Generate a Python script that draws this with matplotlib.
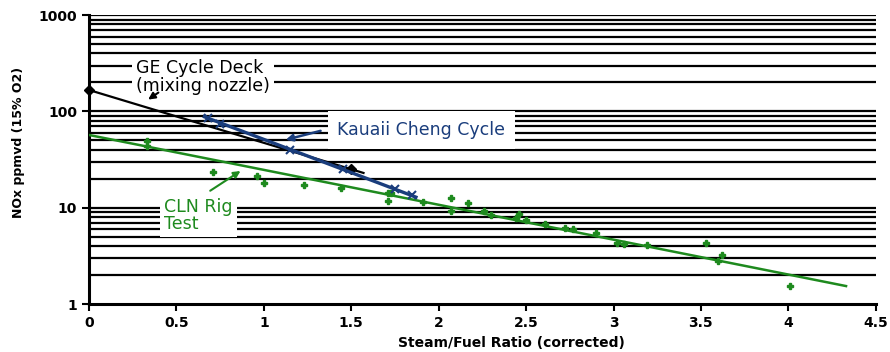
import matplotlib.pyplot as plt

plt.rcParams['font.family'] = ['DejaVu Sans']

# CLN Rig Test (green points)
cln_x = [0.33, 0.33, 0.71, 0.96, 1.0, 1.23, 1.44, 1.71, 1.71, 1.73, 1.91, 2.07, 2.07,
         2.17, 2.26, 2.30, 2.44, 2.46, 2.50, 2.61, 2.72, 2.77, 2.90, 3.02, 3.06,
         3.19, 3.53, 3.60, 3.62, 4.01]
cln_y = [49, 44, 23.5, 21.3, 18, 17.2, 16, 14.2, 11.7, 14.2, 11.5, 12.6, 9.2,
         11.2, 9.2, 8.4, 7.8, 8.6, 7.45, 6.8, 6.15, 6.0, 5.45, 4.3, 4.2,
         4.1, 4.3, 2.8, 3.2, 1.54]
cln_fit_x = [0, 4.33]
cln_fit_y = [57, 1.54]

# GE Cycle Deck (black)
ge_x = [0, 1.5]
ge_y = [167, 25.2]
ge_fit_x = [0, 1.57]
ge_fit_y = [167, 23.0]

# Kauaii Cheng Cycle (blue)
kc_x = [0.68, 0.75, 1.15, 1.45, 1.75, 1.85]
kc_y = [85, 75, 40, 25, 15.5, 13.5]
kc_fit_x = [0.66, 1.87]
kc_fit_y = [88, 12.9]

fig = plt.figure(figsize=(8.9, 3.52), dpi=100)
ax = fig.add_axes([0.1, 0.136, 0.884, 0.821])

ax.set_yscale('log')
ax.set_xlim(0, 4.5)
ax.set_ylim(1, 1000)

# horizontal grid lines at every log step
for dec in [1, 10, 100]:
    for m in range(1, 10):
        v = dec * m
        if v > 1:
            ax.axhline(v, color='black', lw=1.6, zorder=1)
ax.axhline(1000, color='black', lw=1.6, zorder=1)

green = '#1e8a1e'
blue = '#1a3d7c'

ax.plot(cln_fit_x, cln_fit_y, color=green, lw=1.8, zorder=3)
ax.plot(cln_x, cln_y, 'P', color=green, ms=5, zorder=3)

ax.plot(ge_fit_x, ge_fit_y, color='black', lw=1.6, zorder=4)
ax.plot(ge_x, ge_y, 'D', color='black', ms=5, zorder=4, clip_on=False)

ax.plot(kc_fit_x, kc_fit_y, color=blue, lw=2.4, zorder=5)
ax.plot(kc_x, kc_y, 'x', color=blue, ms=6, mew=1.5, zorder=5)

# annotations with white boxes
ax.text(0.27, 228, 'GE Cycle Deck\n(mixing nozzle)', fontsize=12.5, va='center', ha='left',
        linespacing=0.95, bbox=dict(facecolor='white', edgecolor='none', pad=3), zorder=6)
ax.annotate('', xy=(0.325, 128), xytext=(0.41, 163),
            arrowprops=dict(arrowstyle='-|>', color='black', lw=1.5), zorder=7)

ax.text(1.42, 64, 'Kauaii Cheng Cycle', fontsize=12.5, color=blue, va='center', ha='left',
        bbox=dict(facecolor='white', edgecolor='none', pad=7), zorder=6)
ax.annotate('', xy=(1.11, 50), xytext=(1.34, 64),
            arrowprops=dict(arrowstyle='-|>', color=blue, lw=1.8), zorder=7)

ax.text(0.43, 8.3, 'CLN Rig\nTest', fontsize=12.5, color=green, va='center', ha='left',
        linespacing=0.95, bbox=dict(facecolor='white', edgecolor='none', pad=3), zorder=6)
ax.annotate('', xy=(0.88, 25), xytext=(0.68, 14.5),
            arrowprops=dict(arrowstyle='-|>', color=green, lw=1.5), zorder=7)

ax.spines['top'].set_visible(False)
ax.spines['right'].set_visible(False)
ax.spines['left'].set_linewidth(2.2)
ax.spines['bottom'].set_linewidth(2.2)

ax.set_xticks([0, 0.5, 1, 1.5, 2, 2.5, 3, 3.5, 4, 4.5])
ax.set_xticklabels(['0', '0.5', '1', '1.5', '2', '2.5', '3', '3.5', '4', '4.5'])
ax.set_yticks([1, 10, 100, 1000])
ax.set_yticklabels(['1', '10', '100', '1000'])
ax.minorticks_off()
ax.tick_params(axis='both', labelsize=10, width=1.5, length=5, direction='out')
for lbl in ax.get_xticklabels() + ax.get_yticklabels():
    lbl.set_fontweight('bold')

ax.set_xlabel('Steam/Fuel Ratio (corrected)', fontsize=10, fontweight='bold', va='center')
ax.set_ylabel('NOx ppmvd (15% O2)', fontsize=9, fontweight='bold', va='center')
ax.xaxis.set_label_coords(0.537, -0.135)
ax.yaxis.set_label_coords(-0.09, 0.56)

fig.savefig('out.png')
